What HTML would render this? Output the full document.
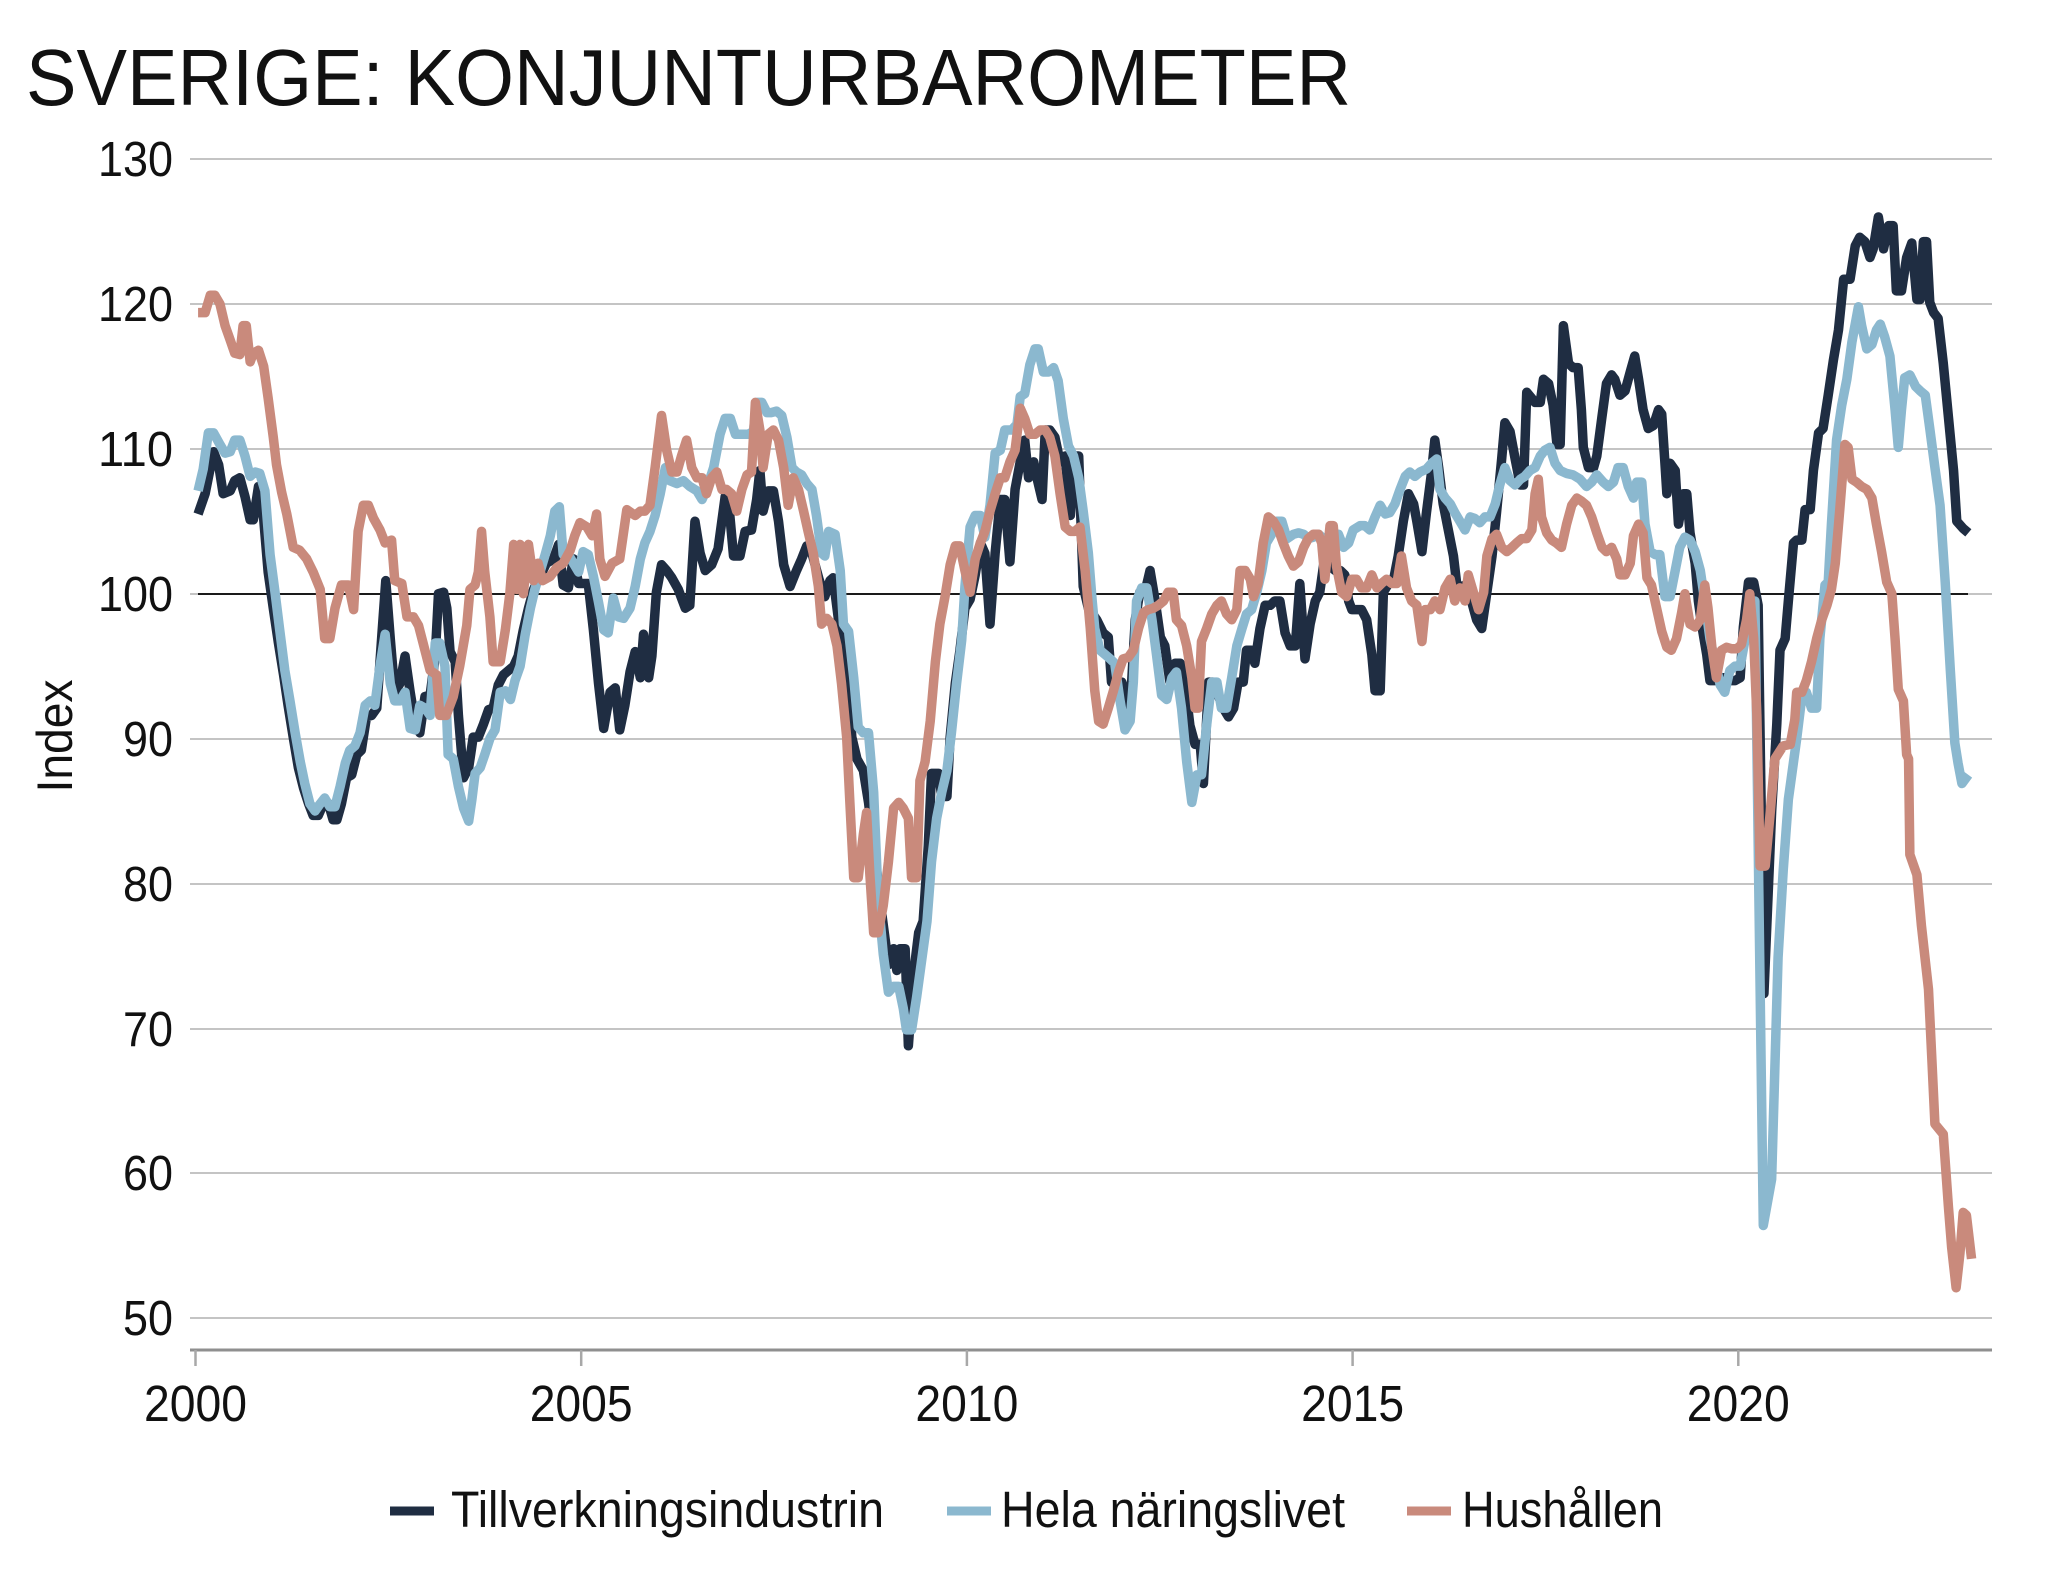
<!DOCTYPE html>
<html>
<head>
<meta charset="utf-8">
<style>
  html,body{margin:0;padding:0;background:#fff;}
  svg{display:block;}
  text{font-family:"Liberation Sans",sans-serif;fill:#111;}
</style>
</head>
<body>
<svg width="2048" height="1581" viewBox="0 0 2048 1581" xmlns="http://www.w3.org/2000/svg">
  <rect x="0" y="0" width="2048" height="1581" fill="#fff"/>

  <!-- Title -->
  <text x="26" y="105" font-size="80" textLength="1325" lengthAdjust="spacingAndGlyphs">SVERIGE: KONJUNTURBAROMETER</text>

  <!-- Gridlines -->
  <g stroke="#c4c4c4" stroke-width="2">
    <line x1="190" y1="159" x2="1992" y2="159"/>
    <line x1="190" y1="304" x2="1992" y2="304"/>
    <line x1="190" y1="449" x2="1992" y2="449"/>
    <line x1="190" y1="594" x2="1992" y2="594"/>
    <line x1="190" y1="739" x2="1992" y2="739"/>
    <line x1="190" y1="884" x2="1992" y2="884"/>
    <line x1="190" y1="1029" x2="1992" y2="1029"/>
    <line x1="190" y1="1173" x2="1992" y2="1173"/>
    <line x1="190" y1="1318" x2="1992" y2="1318"/>
  </g>
  <line x1="198" y1="594" x2="1968" y2="594" stroke="#1a1a1a" stroke-width="2"/>

  <!-- Y labels -->
  <g font-size="49" text-anchor="end">
    <text x="173" y="176" textLength="75" lengthAdjust="spacingAndGlyphs">130</text>
    <text x="173" y="321" textLength="75" lengthAdjust="spacingAndGlyphs">120</text>
    <text x="173" y="466" textLength="75" lengthAdjust="spacingAndGlyphs">110</text>
    <text x="173" y="611" textLength="75" lengthAdjust="spacingAndGlyphs">100</text>
    <text x="173" y="756" textLength="50" lengthAdjust="spacingAndGlyphs">90</text>
    <text x="173" y="901" textLength="50" lengthAdjust="spacingAndGlyphs">80</text>
    <text x="173" y="1046" textLength="50" lengthAdjust="spacingAndGlyphs">70</text>
    <text x="173" y="1190" textLength="50" lengthAdjust="spacingAndGlyphs">60</text>
    <text x="173" y="1335" textLength="50" lengthAdjust="spacingAndGlyphs">50</text>
  </g>

  <!-- Y axis title -->
  <text transform="translate(72,736) rotate(-90)" font-size="50" text-anchor="middle" textLength="113" lengthAdjust="spacingAndGlyphs">Index</text>

  <!-- X axis -->
  <line x1="190" y1="1350" x2="1992" y2="1350" stroke="#8f8f8f" stroke-width="3"/>
  <g stroke="#a8a8a8" stroke-width="2.5">
    <line x1="195.5" y1="1350" x2="195.5" y2="1366"/>
    <line x1="581.2" y1="1350" x2="581.2" y2="1366"/>
    <line x1="966.9" y1="1350" x2="966.9" y2="1366"/>
    <line x1="1352.6" y1="1350" x2="1352.6" y2="1366"/>
    <line x1="1738.3" y1="1350" x2="1738.3" y2="1366"/>
  </g>
  <g font-size="51" text-anchor="middle">
    <text x="195.5" y="1421" textLength="103" lengthAdjust="spacingAndGlyphs">2000</text>
    <text x="581.2" y="1421" textLength="103" lengthAdjust="spacingAndGlyphs">2005</text>
    <text x="966.9" y="1421" textLength="103" lengthAdjust="spacingAndGlyphs">2010</text>
    <text x="1352.6" y="1421" textLength="103" lengthAdjust="spacingAndGlyphs">2015</text>
    <text x="1738.3" y="1421" textLength="103" lengthAdjust="spacingAndGlyphs">2020</text>
  </g>

  <!-- Series: points are (month index, value) -->
  <g transform="matrix(6.428 0 0 -14.49 195.5 2042.7)" fill="none" stroke-linejoin="round" stroke-linecap="butt">
    <!-- Tillverkningsindustrin -->
    <polyline vector-effect="non-scaling-stroke" stroke="#1f2d42" stroke-width="9.5" points="
0.4,105.5 1.5,106.9 2.8,109.8 3.6,108.9 4.3,106.9 5.4,107.1 6.1,107.8 6.9,108 7.7,106.7 8.5,105.1 9,105.1 9.8,107.4 10.6,105.2 11.3,101.5 12.1,99 12.9,96.6 13.7,94.4 14.4,92.3 15.2,90.1 16,88 16.8,86.6 17.6,85.5 18.3,84.7 19.1,84.7 19.9,85.5 20.7,85.5 21.4,84.4 22,84.4 22.7,85.5 23.5,87.3 24.3,87.5 25.1,88.9 25.8,89.2 26.6,91.5 27.4,91.6 28.2,92.1 29,97.2 29.6,100.9 30.3,96.9 31,93.2 31.8,93.8 32.6,95.7 33.4,93.2 34.2,91 34.9,90.4 35.7,92.9 36.5,93 37.3,95.7 37.8,100 38.6,100.1 39.1,99 39.6,96 40.4,95.3 40.9,91.6 41.7,87.3 42.5,88 43.2,90.1 44,90.1 44.8,91 45.6,92 46.3,92.1 47.1,93.7 47.9,94.4 48.7,94.7 49.5,95 50.2,95.7 51,97.5 51.8,99 52.6,100.3 53.6,101.2 54.6,102.1 55.7,102.4 56.5,103.4 57.2,100.6 58,100.4 58.8,102.4 59.6,100.7 61.1,100.7 61.9,97.5 62.7,93.8 63.5,90.7 64.5,93.2 65.3,93.5 66,90.6 66.8,92.3 67.6,94.6 68.4,96 69.2,94.2 69.7,97.2 70.5,94.2 71,95.7 71.7,100.1 72.5,102 73.3,101.6 74.1,101.1 75.1,100.3 76.2,99 76.9,99.2 77.7,105 78.5,102.8 79.3,101.6 80.3,102 81.3,103.1 82.4,106.7 82.9,106.5 83.7,102.6 84.7,102.6 85.5,104.3 86.5,104.4 87.3,106.5 87.8,108.5 88.3,105.7 89.1,107.1 89.9,107.1 90.7,105 91.5,102 92.5,100.5 93.5,101.6 94.3,102.4 95.1,103.3 95.9,102.8 97,101 97.9,99.8 98.7,100.9 99.2,101.1 100,98.3 101.3,95.3 102.1,90.1 102.9,88.6 103.9,87.8 104.7,85.6 105.7,81.9 106.8,77.8 107.8,74.4 108.6,75.5 109.1,74 109.6,75.5 110.4,75.5 110.9,68.8 111.7,73.7 112.5,76.6 113.2,77.4 114,82.6 114.5,87.6 115.6,87.6 116.1,86 116.9,86 117.4,90.1 118.2,93.8 118.9,96 119.7,99 120.5,99.6 121.3,101.3 122.1,103.5 122.8,102.8 123.6,97.9 124.4,102.8 125.2,106.5 125.9,106.5 126.7,102.2 127.5,107.2 128.3,109.1 129,110.6 129.6,108 130.4,109.1 130.9,108 131.7,106.5 132.2,111.3 132.9,111.3 133.7,110.8 134.5,109.1 135.3,109.5 136.1,105.4 136.8,109.5 137.4,109.5 138.1,100.5 138.9,99 140.2,98.2 141.2,97.3 142,97 142.5,93.9 144.1,93.9 145.4,92.1 146.2,98.2 146.9,100.1 147.7,100.1 148.5,101.6 149.3,99.5 150.1,97 150.8,96.4 151.6,93.9 152.4,95.2 153.2,95.2 153.9,93.9 154.7,90.9 155.5,89.6 156.3,89.6 156.8,86.9 157.6,93.9 158.3,93.9 159.1,93 159.9,92.1 160.7,91.5 161.5,92.1 162.2,93.9 163,93.9 163.5,96.1 164.3,96.1 164.8,95.2 165.6,97.6 166.4,99.2 167.2,99.2 167.9,99.5 168.7,99.5 169.5,97.3 170.3,96.4 171.1,96.4 171.8,100.7 172.6,95.5 173.4,97.9 174.2,99.5 174.9,100.1 175.7,102.6 176.5,101.9 177.3,101.6 178.1,101.6 178.8,101.3 179.4,99.5 179.9,98.9 181.4,98.9 182.2,98.2 183,95.8 183.5,93.3 184.3,93.3 184.8,100.1 185.6,100.7 186.4,101 187.1,102.6 187.9,105 188.7,106.9 189.5,106.2 190,105 190.8,102.9 191.5,105.6 192.3,108.4 192.8,110.6 193.4,108.7 194.1,106.2 194.9,104.4 195.7,102.6 196.2,100.7 197,100.4 197.8,100.7 198.5,99.5 199.3,98.2 200.1,97.6 200.9,100.1 201.7,102.6 202.4,105.6 203.2,109.3 203.7,111.8 204.5,111.2 205.3,109.3 206.1,107.5 206.6,107.5 207.1,113.9 208.4,113.2 209.2,113.2 209.7,114.8 210.5,114.5 211.2,113 211.8,110.3 212.3,110.3 212.8,118.5 213.6,115.9 214.3,115.6 215.1,115.6 215.6,112.7 215.9,110.1 216.7,108.7 217.5,108.7 218,109.5 218.8,112.2 219.5,114.5 220.3,115.1 220.8,114.8 221.6,113.7 222.4,114 223.2,115.3 223.9,116.4 224.5,114.8 225.2,112.7 226,111.4 226.8,111.6 227.6,112.7 228.1,112.4 228.6,109 228.9,106.9 229.4,109 230.2,108.5 230.7,104.8 231.5,106.9 232,106.9 232.5,104.2 233.3,102.1 233.8,99.5 234.3,97.9 235.1,95.8 235.6,94 236.4,94 237.2,94.2 238,94.2 238.7,94 239.5,94 240.3,94.2 240.8,97.7 241.6,100.8 242.4,100.8 243.1,99.2 244,72.4 245.2,85 246,91 246.5,96.1 247.3,96.9 247.8,99.5 248.6,103.5 249.1,103.7 249.9,103.7 250.4,105.8 251.2,105.8 251.7,108.5 252.5,111.1 253.2,111.4 254,113.7 254.8,116.1 255.6,118.2 256.4,121.7 257.4,121.7 258.2,124 258.9,124.6 259.7,124.3 260.5,123.2 261,123.8 261.8,126 262.6,123.8 263.4,125.4 264.1,125.4 264.6,120.9 265.4,120.9 266.2,123.2 267,124.2 267.8,120.3 268.3,120.3 268.8,124.3 269.3,124.3 269.8,120.1 270.4,119.4 271.1,119 271.9,115.9 272.7,112.2 273.5,108.5 274,105 275,104.5 275.8,104.2"/>

    <!-- Hela näringslivet -->
    <polyline vector-effect="non-scaling-stroke" stroke="#8bb8cf" stroke-width="9.5" points="
0.4,107.1 1.2,108.6 2,111.1 2.8,111.1 3.8,110.3 4.6,109.7 5.4,109.8 6.1,110.6 6.9,110.6 7.7,109.5 8.5,108.1 9.3,108.4 10,108.3 10.8,107.1 11.6,102.7 12.4,100 13.1,97.5 13.9,94.7 14.7,92.6 15.5,90.4 16.3,88.4 17,86.9 17.8,85.5 18.6,85 19.4,85.5 20.1,85.9 20.9,85.3 21.7,85.3 22.5,86.7 23.3,88.3 24,89.2 24.8,89.5 25.6,90.4 26.4,92.3 27.2,92.6 27.9,92.3 28.7,95 29.5,97.2 30.3,93.8 31,92.6 31.8,92.6 32.6,93.2 33.4,90.7 34.2,90.6 34.9,92.3 35.7,92.1 36.5,91.6 37.3,96.6 38,96.6 38.8,95 39.3,88.9 40.1,88.6 40.9,86.7 41.7,85.2 42.5,84.3 43,85.8 43.5,87.6 44.3,88 45,88.9 45.8,90 46.6,90.6 47.4,93.2 48.2,93.3 49,92.7 49.7,94 50.5,95 51.3,97.2 52.1,99 52.8,100.3 53.6,101.5 54.4,102.7 55.2,104 55.9,105.7 56.6,106 57.2,102.7 58,102.7 58.8,102.1 59.6,101.5 60.3,102.9 61.1,102.7 61.9,101.2 62.7,99.4 63.5,97.5 64.2,97.3 65,99.7 65.8,98.4 66.6,98.3 67.6,99 68.4,100.5 69.2,102.4 69.9,103.5 70.7,104.3 71.5,105.4 72.3,106.9 73.1,108.7 73.8,107.8 74.9,107.6 75.9,107.8 76.9,107.4 78,107.1 78.8,106.5 79.5,107.2 80.6,108.7 81.6,111 82.4,112.1 83.2,112.1 84,111 86,111 86.8,111.2 87.3,113.2 88.1,113.2 88.9,112.5 89.6,112.5 90.4,112.6 91.2,112.3 92,110.8 92.8,108.7 93.5,108.4 94.3,108.2 95.1,107.6 95.9,107.2 96.6,105.4 97.4,102.8 97.9,102.6 98.5,104.3 99.5,104.1 100.3,101.6 100.8,97.9 101.6,97.4 102.4,94.2 103.1,90.8 103.9,90.4 104.7,90.4 105.5,86.3 106.2,78.9 107,75.1 107.8,72.5 108.6,72.9 109.4,72.9 110.1,71.4 110.6,69.9 111.4,69.9 112.2,72.2 113,74.8 113.8,77.4 114.5,81.5 115.3,84.5 116.1,86.3 116.9,87.8 117.6,90.4 118.4,93.8 119.2,96.8 119.7,100.5 120.5,104.6 121.3,105.4 122.1,105.4 122.8,103.9 123.6,106.1 124.4,109.7 125.2,109.9 125.9,111.3 127,111.3 127.8,111.7 128.3,113.6 129,113.8 129.8,115.8 130.6,116.9 131.1,116.9 131.9,115.3 132.7,115.3 133.5,115.6 134.2,114.7 135,112.1 135.8,110.2 136.6,109.5 137.4,108 138.1,105.7 138.9,102.8 139.5,99.5 139.9,97.6 140.7,96.1 141.5,95.8 142.3,95.5 143,95.2 143.8,92.7 144.6,90.6 145.4,91.2 145.9,93.9 146.4,99.5 147.2,100.4 148,100.4 148.8,98.2 149.5,95.8 150.3,93 151.1,92.7 151.9,94.2 152.6,94.6 153.4,92.1 154.2,88.4 155,85.6 155.8,87.5 156.5,87.5 157.3,90.9 158.1,93.9 158.9,93.9 159.6,92.1 160.4,92.1 161.2,94.2 162,96.4 162.8,97.6 163.5,98.6 164.3,98.9 165.1,100.1 165.9,101.6 166.6,103.5 167.4,104.1 168.2,105 169,105 169.8,103.8 170.8,104.1 171.6,104.2 172.4,104.1 173.1,103.8 173.9,103.9 174.7,104.1 175.5,103.8 176.2,103.8 177,104.1 177.8,104.1 178.6,103.2 179.4,103.5 180.1,104.4 181.2,104.7 181.9,104.7 182.7,104.4 183.5,105.3 184.3,106.1 185.1,105.5 185.8,105.6 186.6,106.2 187.4,107.2 188.2,108.1 188.9,108.4 189.7,108.1 190.5,108.4 191.5,108.6 192.3,109 193.1,109.3 193.6,107.2 194.4,106.6 195.2,106.2 195.9,105.6 196.7,105 197.5,104.4 198.3,105.3 199,105.2 199.8,104.9 200.6,105.3 201.4,105.3 202.2,106.2 202.9,107.5 203.7,108.7 204.5,107.8 205.3,107.5 206.1,107.9 206.8,108.1 207.6,108.5 208.4,108.7 209.2,109.5 209.9,109.9 210.7,110.1 211.5,109 212.3,108.5 213.3,108.3 214.3,108.2 215.4,107.9 216.4,107.4 217.2,107.7 218,108.2 219,107.7 219.8,107.4 220.6,107.7 221.3,108.7 222.1,108.7 222.9,107.4 223.7,106.6 224.2,107.7 225,107.7 225.5,104.8 226.3,102.9 227.1,102.7 227.8,102.7 228.6,99.8 229.4,99.8 230.2,101.6 230.9,103.2 231.7,103.9 232.5,103.7 233.3,102.9 234.1,101.6 234.8,99.5 235.6,96.9 236.4,95.3 237.2,93.7 237.9,93.2 238.7,94.7 239.5,95 240.3,95 241.1,96.9 241.8,99.5 242.6,99.5 243.9,56.4 245.2,59.6 246.2,74.9 247,80.9 247.8,85.8 249.1,90 249.9,92.9 250.6,93.2 251.4,92.1 252.2,92.1 252.7,96.9 253.5,100.6 254,100.8 254.5,104.8 255.3,110.6 256.1,113 256.9,114.8 257.7,117.4 258.7,119.8 259.2,118.5 260,116.9 260.8,117.2 261.5,118.2 262.1,118.6 262.8,117.7 263.6,116.4 264.4,112.7 264.9,110.1 265.4,112.7 265.9,114.9 266.7,115.1 267.6,114.3 268.3,114 269.1,113.7 269.8,111.4 270.6,108.7 271.4,106.1 272.2,100.8 273,94.7 273.7,89.7 274.2,88.3 274.8,86.9 275.8,87.5"/>

    <!-- Hushållen -->
    <polyline vector-effect="non-scaling-stroke" stroke="#c98a7c" stroke-width="9.5" points="
0.4,119.4 1.5,119.4 2.3,120.6 3,120.6 3.8,120 4.6,118.5 5.4,117.5 6.1,116.6 6.9,116.5 7.4,118.5 7.9,118.5 8.5,116 9,116.6 9.8,116.8 10.6,115.7 11.3,113.5 12.1,110.8 12.6,108.9 13.4,107 14.2,105.5 15.2,103.2 16.2,103 17.3,102.4 18.3,101.5 19.4,100.3 20.1,96.9 20.9,96.9 21.7,99 22.7,100.6 23.8,100.6 24.6,98.9 25.3,104.3 26.1,106.1 26.9,106.1 27.7,105.2 28.7,104.4 29.5,103.5 30.5,103.7 31,100.9 32.1,100.7 32.9,98.4 33.9,98.4 34.7,97.8 35.4,96.6 36.5,94.7 37.5,94.4 38,91.6 39,91.6 40.1,92.9 41.1,95 42.2,97.8 42.7,100.3 43.5,100.6 44,101.5 44.5,104.3 45,101.5 45.8,98.4 46.3,95.3 47.4,95.3 48.2,97.5 48.9,100 49.5,103.4 50,100.3 50.5,103.4 51,100 51.8,103.4 52.6,100.9 53.3,102.1 54,100.9 55.2,101.2 56.2,101.8 57.2,102.1 58.3,103 59,104 59.8,104.9 60.9,104.6 61.7,104 62.4,105.5 62.9,102.4 63.7,101.2 64.8,102.1 66,102.4 67.1,105.8 68.4,105.4 69.2,105.7 69.9,105.7 70.7,106.1 71.5,108.7 72.5,112.3 73.3,109.9 74.1,108.4 74.9,108.4 75.6,109.5 76.4,110.6 77.2,108.7 78,108 78.8,108 79.5,106.9 80.3,108 81.1,108.4 81.9,107.2 82.6,107.2 83.4,106.9 84.2,105.7 85,107.2 85.8,108.2 86.5,108.4 87.1,113.2 87.8,111.3 88.3,108.7 89.1,111 89.9,111.3 90.7,110.6 91.5,108.7 92.2,106.1 93,108 93.8,107.2 94.6,105.7 95.3,104.3 96.1,102.8 96.9,100.5 97.4,97.9 98.2,98.3 99,97.9 99.8,96.4 100.5,93.8 101.3,90.1 101.8,85.6 102.4,80.4 103.1,80.4 103.9,83.4 104.4,84.9 104.9,80.7 105.5,76.6 106.2,76.6 107,78.5 107.8,81.5 108.6,85.2 109.4,85.6 110.1,85.2 110.9,84.5 111.4,80.4 112.2,80.4 112.7,87.1 113.5,88.4 114.3,91.2 115.1,95.3 115.8,97.9 116.6,99.8 117.4,102 118.2,103.3 118.9,103.3 119.7,101.6 120.5,100.1 121.3,102.4 122.1,103.5 122.8,104.3 123.6,105.7 124.4,106.9 125.2,108 125.9,108 126.7,109.1 127.5,109.9 128.3,112.8 129,112.1 129.8,111 130.6,111 131.4,111.3 132.2,111.3 132.9,110.8 133.7,109.5 134.5,106.9 135.3,104.6 136.1,104.3 136.8,104.3 137.6,104.6 138.4,101.6 139.2,97.6 139.9,93.3 140.5,91.2 141.2,91 142,92.1 142.8,93.3 143.6,94.6 144.3,95.5 145.1,95.6 145.9,96.1 146.7,97.6 147.5,98.7 148.2,98.9 149,99 149.8,99.2 150.6,99.5 151.3,100.1 152.1,100.1 152.6,98.2 153.4,97.8 154.2,96.4 155,94.2 155.5,92.1 156,92.1 156.5,96.7 157.3,97.6 158.1,98.6 158.9,99.2 159.6,99.5 160.4,98.6 161.2,98.2 162,98.9 162.5,101.6 163.3,101.6 164.1,101 164.6,99.8 165.3,100.7 166.1,103.5 166.9,105.3 167.7,105 168.5,104.4 169.2,103.5 170,102.6 170.8,101.9 171.6,102.2 172.4,103.2 173.1,103.8 173.9,104.1 174.7,104.1 175.2,103.5 175.7,101 176.5,104.7 177,104.7 177.5,101.9 178.3,100.1 179.1,99.8 179.9,101 180.6,101 181.4,100.4 182.2,100.4 183,101.3 183.8,100.4 184.5,100.7 185.3,101 186.1,100.7 186.9,100.7 187.6,102.6 188.4,100.4 189.2,99.5 190,99.2 190.8,96.7 191.3,98.9 192.1,98.9 192.8,99.5 193.6,98.9 194.4,100.4 195.2,101 195.9,99.5 196.7,100.4 197.5,99.5 198,101.3 198.8,100.1 199.6,98.9 200.4,100.1 200.9,102.6 201.7,103.8 202.4,104.1 203.2,103.2 204,102.9 204.8,103.2 205.5,103.5 206.3,103.8 207.1,103.8 207.9,104.4 208.4,106.9 208.9,107.9 209.4,105.3 210.2,104.2 211,103.7 211.7,103.5 212.5,103.2 213.3,104.8 214.1,106.1 214.9,106.6 215.6,106.4 216.4,106.1 217.2,105.3 218,104.2 218.8,103.2 219.5,102.9 220.3,103.2 221.1,102.4 221.6,101.3 222.4,101.3 223.2,102.1 223.7,104 224.5,104.8 225.2,104.2 225.8,101.1 226.5,100.6 227.3,99 228.1,97.4 228.9,96.3 229.6,96.1 230.4,96.9 231.2,98.7 231.7,100 232.5,97.9 233.3,97.7 234.1,98.2 234.8,100.6 235.3,99 235.9,96.3 236.6,94.2 237.4,96.1 238.2,96.3 239,96.2 239.8,96.2 240.5,96.5 241.3,98.2 241.8,100 242.4,96.9 242.9,91.6 243.4,81.2 244.2,81.2 244.9,84.5 245.7,88.6 247,89.5 248.1,89.6 248.8,91.3 249.1,93.2 249.9,93.2 250.6,94 251.4,95.3 252.2,96.9 253,98.2 253.8,99.2 254.5,100.3 255.1,102.1 255.8,105.8 256.6,110.3 257.1,110.1 257.7,107.9 258.4,107.7 259.2,107.4 260,107.2 260.8,106.6 261.5,104.8 262.3,102.9 263.1,100.8 263.9,100 264.4,96.9 264.9,93.4 265.7,92.6 266.2,88.9 266.5,88.6 266.7,82 267.8,80.6 268.5,77.1 269.6,72.7 270.1,68.1 270.6,63.4 271.9,62.7 272.7,57.7 273.2,54.9 273.9,52.1 274.5,54.5 275,57.3 275.5,57.1 276.3,54.1"/>
  </g>

  <!-- Legend -->
  <g stroke-width="9">
    <line x1="390" y1="1511" x2="434" y2="1511" stroke="#1f2d42"/>
    <line x1="947" y1="1511" x2="991" y2="1511" stroke="#8bb8cf"/>
    <line x1="1407" y1="1511" x2="1451" y2="1511" stroke="#c98a7c"/>
  </g>
  <g font-size="51">
    <text x="451" y="1527" textLength="433" lengthAdjust="spacingAndGlyphs">Tillverkningsindustrin</text>
    <text x="1001" y="1527" textLength="344" lengthAdjust="spacingAndGlyphs">Hela näringslivet</text>
    <text x="1462" y="1527" textLength="201" lengthAdjust="spacingAndGlyphs">Hushållen</text>
  </g>
</svg>
</body>
</html>
